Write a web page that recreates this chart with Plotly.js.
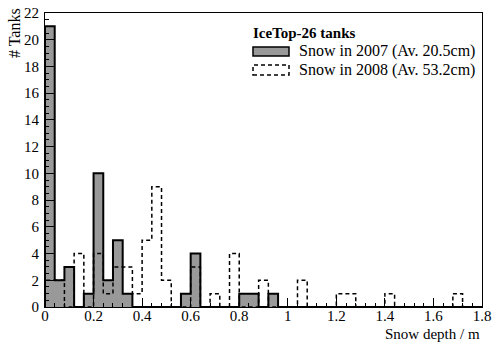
<!DOCTYPE html>
<html><head><meta charset="utf-8">
<script src="https://cdn.plot.ly/plotly-3.0.1.min.js"></script>
<style>html,body{margin:0;padding:0;background:#fff}</style>
</head><body><div id="chart" style="width:498px;height:342px"></div>
<script>
const binWidth = 0.04;
const counts2007 = [21,2,3,0,1,10,2,5,1,0,0,0,0,0,1,4,0,0,0,0,1,1,0,1,0,0,0,0,0,0,0,0,0,0,0,0,0,0,0,0,0,0,0,0,0];
const counts2008 = [2,2,0,4,0,4,1,3,3,1,5,9,2,0,0,3,0,1,0,4,0,0,2,0,0,0,2,0,0,0,1,1,0,0,0,1,0,0,0,0,0,0,1,0,0];
const name2007 = "Snow in 2007 (Av. 20.5cm)";
const name2008 = "Snow in 2008 (Av. 53.2cm)";
const legendTitle = "IceTop-26 tanks";
const xTickVals = [0,0.2,0.4,0.6,0.8,1,1.2,1.4,1.6,1.8];
const xTickText = ["0","0.2","0.4","0.6","0.8","1","1.2","1.4","1.6","1.8"];
const yTickVals = [0,2,4,6,8,10,12,14,16,18,20,22];

function stepXY(counts){
  const xs=[0], ys=[0];
  for(let i=0;i<counts.length;i++){ xs.push(+(i*binWidth).toFixed(4)); ys.push(counts[i]); }
  xs.push(+(counts.length*binWidth).toFixed(4)); ys.push(0);
  return {xs, ys};
}
const s07 = stepXY(counts2007), s08 = stepXY(counts2008);
const FONT = "Liberation Serif";

const traces = [
  {x:s07.xs, y:s07.ys, type:'scatter', mode:'lines', line:{shape:'hv', color:'#000', width:2},
   fill:'tozeroy', fillcolor:'#999999', name:name2007, showlegend:false, cliponaxis:false, hoverinfo:'skip'},
  {x:s08.xs, y:s08.ys, type:'scatter', mode:'lines', line:{shape:'hv', color:'#000', width:1.5, dash:'4px,3px'},
   name:name2008, showlegend:false, cliponaxis:false, hoverinfo:'skip'}
];

const L=45, R=16, T=13, B=35, W=498, H=342;
const pw=W-L-R, ph=H-T-B;
const px=x=>(x-L)/pw, py=y=>(H-B-y)/ph;

const layout = {
  width:W, height:H, margin:{l:L,r:R,t:T,b:B},
  paper_bgcolor:'#fff', plot_bgcolor:'#fff',
  font:{family:FONT, size:15, color:'#000'},
  xaxis:{range:[0,1.8], showgrid:false, zeroline:false, showline:true, mirror:true, linecolor:'#000', linewidth:1,
    ticks:'inside', ticklen:9, tickcolor:'#000', tickvals:xTickVals, ticktext:xTickText, ticklabelstandoff:-5,
    tickfont:{family:FONT,size:15}, minor:{dtick:0.04, ticks:'inside', ticklen:4, tickcolor:'#000', showgrid:false}},
  yaxis:{range:[0,22], showgrid:false, zeroline:false, showline:true, mirror:true, linecolor:'#000', linewidth:1,
    ticks:'inside', ticklen:9, tickcolor:'#000', tickvals:yTickVals, ticklabelstandoff:2,
    tickfont:{family:FONT,size:15}, minor:{dtick:0.5, ticks:'inside', ticklen:4, tickcolor:'#000', showgrid:false}},
  shapes:[
    {type:'rect', xref:'paper', yref:'paper', x0:px(253), x1:px(289), y0:py(56), y1:py(47), line:{color:'#000', width:1.5}, fillcolor:'#999999'},
    {type:'rect', xref:'paper', yref:'paper', x0:px(253), x1:px(289), y0:py(75), y1:py(65), line:{color:'#000', width:1.5, dash:'4px,3px'}, fillcolor:'rgba(0,0,0,0)'}
  ],
  annotations:[
    {xref:'paper', yref:'paper', x:px(251), y:py(33), xanchor:'left', yanchor:'middle', showarrow:false,
     text:'<b>'+legendTitle+'</b>', font:{family:FONT,size:15}},
    {xref:'paper', yref:'paper', x:px(297), y:py(51), xanchor:'left', yanchor:'middle', showarrow:false,
     text:name2007, font:{family:FONT,size:16}},
    {xref:'paper', yref:'paper', x:px(297), y:py(70), xanchor:'left', yanchor:'middle', showarrow:false,
     text:name2008, font:{family:FONT,size:16}},
    {xref:'paper', yref:'paper', x:px(15), y:py(33), xanchor:'center', yanchor:'middle', showarrow:false,
     text:'# Tanks', textangle:-90, font:{family:FONT,size:16}},
    {xref:'paper', yref:'paper', x:px(482), y:py(334), xanchor:'right', yanchor:'middle', showarrow:false,
     text:'Snow depth / m', font:{family:FONT,size:15}}
  ]
};
Plotly.newPlot('chart', traces, layout, {staticPlot:true, displayModeBar:false});
</script></body></html>
